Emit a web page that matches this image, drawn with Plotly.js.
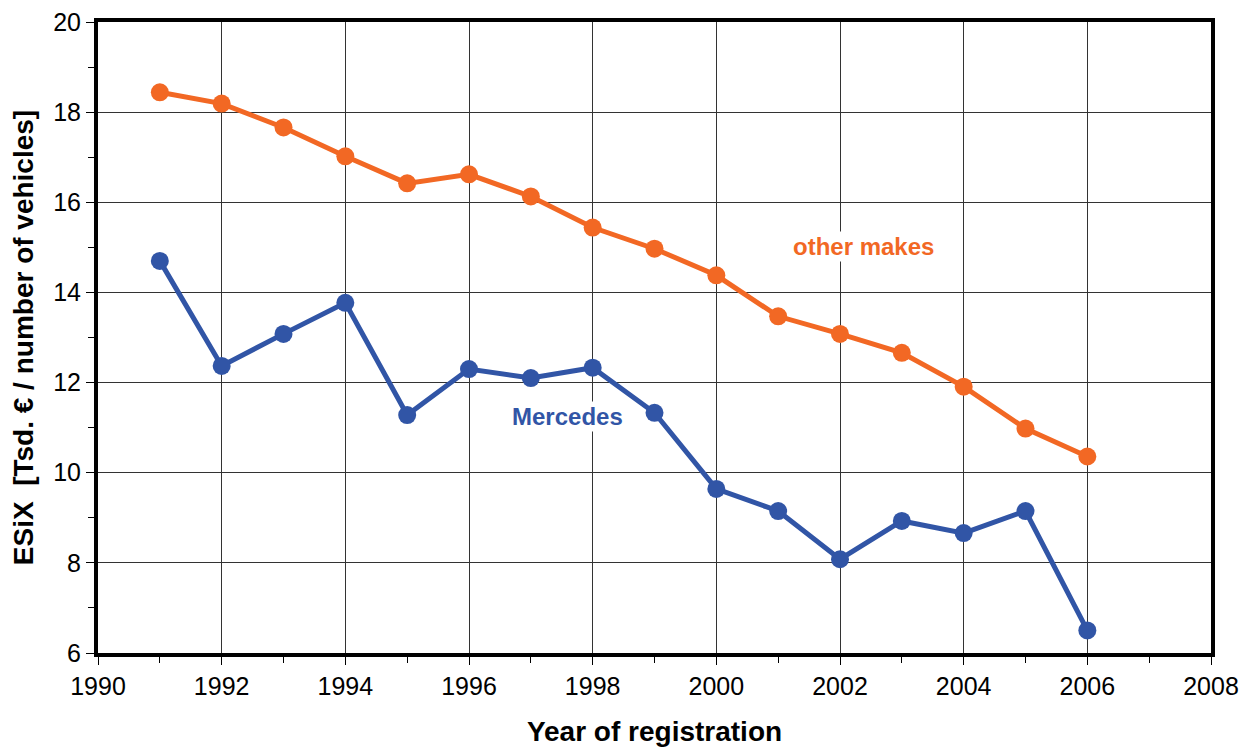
<!DOCTYPE html>
<html>
<head>
<meta charset="utf-8">
<script src="https://cdn.plot.ly/plotly-3.0.1.min.js"></script>
<style>html,body{margin:0;padding:0;background:#fff;}#chart{width:1240px;height:747px;}</style>
</head>
<body>
<div id="chart"></div>
<script>
const years = [1991,1992,1993,1994,1995,1996,1997,1998,1999,2000,2001,2002,2003,2004,2005,2006];
const otherMakes = [18.44,18.19,17.66,17.02,16.42,16.62,16.13,15.44,14.97,14.38,13.47,13.08,12.66,11.91,10.98,10.36];
const mercedes = [14.70,12.37,13.08,13.77,11.28,12.30,12.10,12.33,11.33,9.64,9.15,8.08,8.93,8.66,9.15,6.50];
const xTicks = [1990,1992,1994,1996,1998,2000,2002,2004,2006,2008];
const yTicks = [6,8,10,12,14,16,18,20];

const orange = '#F26824';
const blue = '#3155A6';

const traces = [
  {x: years, y: otherMakes, mode: 'lines+markers', name: 'other makes',
   line: {color: orange, width: 5}, marker: {color: orange, size: 18}},
  {x: years, y: mercedes, mode: 'lines+markers', name: 'Mercedes',
   line: {color: blue, width: 5}, marker: {color: blue, size: 18}}
];

const font = 'Liberation Sans, Arial, sans-serif';
const layout = {
  width: 1240, height: 747,
  margin: {l: 98, r: 29, t: 22, b: 94},
  paper_bgcolor: '#fff', plot_bgcolor: '#fff',
  showlegend: false,
  font: {family: font, color: '#000'},
  xaxis: {
    range: [1990, 2008], tickvals: xTicks, ticktext: xTicks.map(String),
    showgrid: true, gridcolor: '#333', gridwidth: 1,
    showline: true, linecolor: '#000', linewidth: 4, mirror: true,
    ticks: 'outside', ticklen: 8, tickwidth: 1, tickcolor: '#000',
    minor: {dtick: 1, ticks: 'outside', ticklen: 6, tickcolor: '#000', showgrid: false},
    tickfont: {size: 25, family: font}, zeroline: false,
    title: {text: '<b>Year of registration</b>', font: {size: 28, family: font}, standoff: 25}
  },
  yaxis: {
    range: [6, 20], tickvals: yTicks, ticktext: yTicks.map(String),
    showgrid: true, gridcolor: '#333', gridwidth: 1,
    showline: true, linecolor: '#000', linewidth: 4, mirror: true,
    ticks: 'outside', ticklen: 8, tickwidth: 1, tickcolor: '#000',
    minor: {dtick: 1, ticks: 'outside', ticklen: 6, tickcolor: '#000', showgrid: false},
    tickfont: {size: 25, family: font}, zeroline: false,
    title: {text: '<b>ESiX  [Tsd. € / number of vehicles]</b>', font: {size: 28, family: font}, standoff: 12}
  },
  annotations: [
    {x: 2002.38, y: 15.02, xref: 'x', yref: 'y', text: '<b>other makes</b>', showarrow: false,
     font: {size: 24, color: orange, family: font}, bgcolor: '#fff'},
    {x: 1997.6, y: 11.24, xref: 'x', yref: 'y', text: '<b>Mercedes</b>', showarrow: false,
     font: {size: 24, color: blue, family: font}, bgcolor: '#fff'}
  ]
};

Plotly.newPlot('chart', traces, layout, {displayModeBar: false, staticPlot: true});
</script>
</body>
</html>
